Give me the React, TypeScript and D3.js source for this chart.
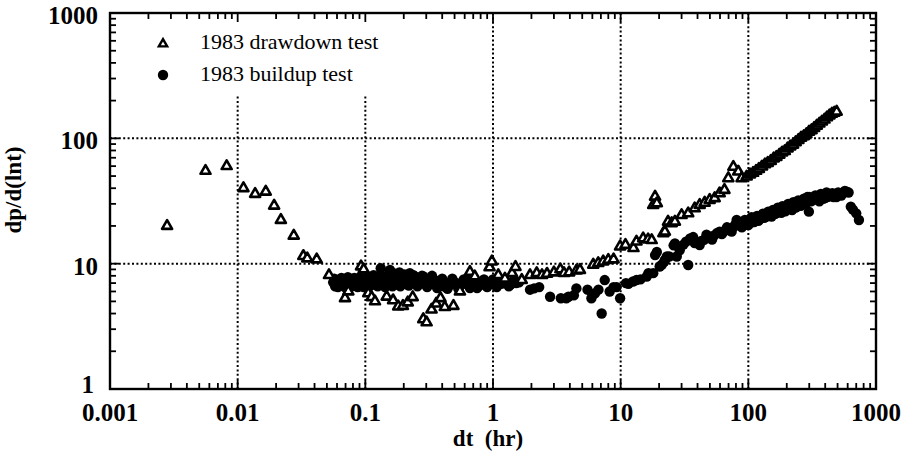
import React from "react";
import * as d3 from "d3";

const xTickValues = [0.001, 0.01, 0.1, 1, 10, 100, 1000];
const xTickLabels = ["0.001", "0.01", "0.1", "1", "10", "100", "1000"];
const yTickValues = [1, 10, 100, 1000];
const yTickLabels = ["1", "10", "100", "1000"];

const legendLabels = ["1983 drawdown test", "1983 buildup test"];
const xTitle = "dt  (hr)";
const yTitle = "dp/d(lnt)";

// 1983 drawdown test (triangles)
const drawdownT = [
  0.0028, 0.0056, 0.0082, 0.0111, 0.0137, 0.0166, 0.0193, 0.0218, 0.0275, 0.0327,
  0.0351, 0.0416, 0.0519, 0.0693, 0.0736, 0.0925, 0.097, 0.1055, 0.112, 0.119,
  0.147, 0.165, 0.181, 0.197, 0.215, 0.235, 0.2845, 0.302, 0.33, 0.359,
  0.388, 0.419, 0.49, 0.551, 0.66, 0.72, 0.94, 0.98, 1.1, 1.24,
  1.41, 1.5, 1.68, 1.95, 2.2, 2.42, 2.65, 3.0, 3.37, 3.6,
  3.95, 4.5, 4.8, 6.1, 6.67, 7.3, 8.0, 8.8, 9.9, 10.9,
  12.6, 13.3, 15.0, 16.4, 17.5, 18.0, 18.6, 19.2, 21.6, 22.2,
  23.5, 25.1, 26.6, 30, 33.8, 38, 41.6, 45.5, 49.8, 54.5,
  59.6, 65, 69.7, 76.3, 83.4, 88.6, 97, 103, 109, 115,
  121, 128, 135, 142, 150, 158, 166, 175, 184, 193,
  203, 213, 224, 235, 247, 259, 272, 285, 299, 313,
  328, 344, 360, 377, 395, 413, 432, 452, 472, 492,
];
const drawdownV = [
  20, 55, 60, 40, 36, 37.5, 29, 22.3, 16.7, 11.5,
  11, 10.8, 8.1, 5.3, 6.0, 9.5, 9.0, 5.8, 5.4, 5.0,
  5.45, 5.1, 4.55, 4.6, 4.9, 5.4, 3.6, 3.4, 4.3, 4.8,
  5.3, 4.5, 4.6, 6.0, 8.6, 7.9, 9.35, 10.4, 8.1, 7.6,
  8.4, 9.4, 7.4, 8.1, 8.4, 8.1, 8.3, 8.5, 9.0, 8.4,
  8.5, 8.8, 8.9, 9.8, 10.1, 10.4, 10.7, 10.8, 13.7, 14.1,
  13.3, 15.0, 15.9, 15.6, 15.4, 29.4, 34.2, 30.3, 17.5, 18,
  21.6, 21, 21.6, 24.4, 25.2, 27.6, 29.4, 30.6, 32.2, 33.3,
  36.4, 38.7, 48, 59.2, 54.3, 48, 49.5, 51.5, 53, 55,
  57, 59.5, 62, 63.5, 66, 69, 71, 74, 77, 79,
  83, 86, 89, 93, 97, 101, 104, 108, 113, 116,
  121, 126, 131, 136, 141, 147, 152, 157, 160, 163,
];

// 1983 buildup test (filled circles)
const buildupT = [
  0.056, 0.058, 0.06, 0.062, 0.064, 0.066, 0.068, 0.07, 0.072, 0.074,
  0.077, 0.08, 0.083, 0.086, 0.089, 0.092, 0.095, 0.098, 0.102, 0.106,
  0.11, 0.114, 0.118, 0.122, 0.127, 0.132, 0.136, 0.141, 0.146, 0.151,
  0.156, 0.161, 0.166, 0.172, 0.178, 0.185, 0.192, 0.199, 0.207, 0.215,
  0.223, 0.232, 0.241, 0.251, 0.261, 0.272, 0.285, 0.298, 0.312, 0.326,
  0.341, 0.357, 0.374, 0.392, 0.41, 0.43, 0.45, 0.47, 0.49, 0.52,
  0.55, 0.58, 0.61, 0.64, 0.68, 0.72, 0.75, 0.79, 0.83, 0.88,
  0.93, 0.98, 1.04, 1.1, 1.16, 1.23, 1.3, 1.37, 1.43, 1.52,
  0.057, 0.061, 0.065, 0.069, 0.073, 0.078, 0.082, 0.087, 0.091, 0.097,
  0.104, 0.108, 0.116, 0.125, 0.134, 0.143, 0.153, 0.163, 0.175, 0.188,
  0.203, 0.219, 0.237, 0.256, 0.278, 0.305, 0.333, 0.365, 0.4, 0.44,
  0.48, 0.535, 0.59, 0.66, 0.7, 0.77, 0.85, 0.9, 1.0, 1.07,
  1.2, 1.33, 1.47, 1.6,
  1.95, 2.1, 2.3, 2.8, 3.4, 3.75, 3.9, 4.3, 4.5, 5.5,
  5.9, 6.3, 6.7, 7.1, 7.5, 8.2, 8.8, 9.3, 9.9, 11.0,
  11.5, 12.5, 13.3, 14.3, 16.0, 16.5, 18.0, 18.6, 19.2, 20.2,
  21, 22.0, 22.2, 23, 24, 26, 26.6, 27.5, 29, 32.5,
  33.8, 35, 38, 41.6, 45, 50, 54, 59.6, 65, 71,
  76, 81, 86, 91, 97, 103, 108, 114, 120, 127,
  133, 139, 146, 152, 159, 166, 173, 181, 190, 200,
  210, 220, 230, 240, 252, 265, 280, 290, 298, 310,
  325, 345, 360, 380, 400, 415, 440, 465, 490, 520,
  550, 590, 635, 660, 700, 735,
  31, 37, 43, 47, 52, 57, 62, 68, 74, 79,
  84, 89, 94, 100, 106, 111, 117, 124, 130, 137,
  143, 149, 156, 163, 170, 177, 185, 195, 205, 215,
  225, 235, 246, 258, 272, 285, 300, 318, 335, 352,
  370, 390, 410, 430, 455, 480, 505, 535, 570, 610,
];
const buildupV = [
  7.1, 6.6, 7.4, 6.9, 7.2, 6.7, 7.3, 7.0, 6.6, 7.4,
  7.1, 6.8, 7.3, 7.0, 6.6, 7.2, 7.5, 6.9, 7.3, 7.0,
  7.6, 6.8, 7.2, 7.8, 7.0, 9.2, 7.5, 6.9, 7.8, 7.3,
  8.9, 7.0, 8.4, 7.5, 6.8, 8.5, 7.2, 7.9, 6.9, 7.6,
  8.4, 7.3, 8.0, 6.9, 7.6, 7.2, 7.9, 6.8, 7.5, 7.7,
  6.9, 7.3, 6.7, 7.1, 6.6, 6.5, 7.0, 6.8, 7.2, 7.0,
  6.6, 7.1, 6.9, 7.3, 6.8, 7.0, 6.4, 6.9, 7.1, 6.7,
  7.0, 7.2, 6.8, 7.1, 6.9, 7.0, 7.1, 6.8, 7.2, 7.0,
  7.6, 6.5, 7.7, 6.5, 7.8, 6.6, 7.7, 6.5, 7.8, 6.5,
  7.9, 6.6, 8.1, 6.6, 8.0, 6.5, 8.3, 6.6, 8.1, 6.6,
  8.2, 6.7, 8.1, 6.6, 8.0, 6.5, 8.0, 6.4, 7.6, 6.3,
  7.6, 6.3, 7.5, 6.4, 7.5, 6.6, 7.5, 6.5, 7.5, 6.5,
  7.4, 6.6, 7.4, 7.1,
  6.2, 6.35, 6.5, 5.45, 5.3, 5.3, 5.45, 5.6, 6.35, 6.2,
  5.3, 5.8, 6.2, 4.0, 7.4, 6.0, 6.5, 6.5, 5.3, 7.0,
  6.9, 7.2, 7.4, 7.5, 7.9, 8.4, 8.4, 11.7, 12.4, 9.5,
  9.8, 10.4, 10.7, 11.4, 11.4, 14, 14.5, 11.4, 12.8, 15,
  9.75, 15.9, 14.6, 14.1, 15.5, 16.4, 16.8, 18, 18.2, 18.6,
  19.5, 22.3, 20, 21.2, 21, 22.5, 21.5, 23, 22, 24,
  23.2, 24.4, 25.5, 23.8, 25, 26, 27, 25.5, 27.6, 27.6,
  28.8, 26.8, 29.5, 28.5, 31, 29.8, 32.5, 34, 26, 31.5,
  33, 33, 31.5, 35, 33.5, 34, 35.5, 34, 34, 36,
  36.5, 37.5, 28.5, 27, 25.2, 22.3,
  14.2, 16.3, 15.2, 17, 15.6, 17.6, 17.2, 19.5, 18, 20.5,
  21.5, 19.5, 22.3, 20.3, 23.5, 21.5, 24, 22.8, 25, 23.5,
  26, 24.2, 26.8, 25, 28, 26.5, 28.8, 26.2, 30, 27.5,
  31, 28, 32, 29, 33, 30.5, 34, 32, 35, 32.5,
  36, 33, 37, 34.5, 36.5, 35.2, 37, 35, 38, 37,
];

const W = 902;
const H = 459;
const L = 110;
const R = 876;
const T = 13;
const B = 389;

const FONT = "'Liberation Serif', 'Times New Roman', serif";

export default function App() {
  const x = d3.scaleLog().domain([0.001, 1000]).range([L, R]);
  const y = d3.scaleLog().domain([1, 1000]).range([B, T]);

  const minorX: number[] = [];
  for (let e = -3; e < 3; e++) {
    for (let m = 2; m <= 9; m++) minorX.push(m * Math.pow(10, e));
  }
  const minorY: number[] = [];
  for (let e = 0; e < 3; e++) {
    for (let m = 2; m <= 9; m++) minorY.push(m * Math.pow(10, e));
  }

  const tri = d3.symbol().type(d3.symbolTriangle).size(44)() as string;
  const triLegend = d3.symbol().type(d3.symbolTriangle).size(30)() as string;

  const legendBottom = 96;
  const legendRight = 420;

  const minorLen = 6;
  const majorLen = 9;

  return (
    <svg
      width={W}
      height={H}
      viewBox={`0 0 ${W} ${H}`}
      style={{ position: "absolute", left: 0, top: 0, background: "#fff" }}
    >
      <rect x={0} y={0} width={W} height={H} fill="#fff" />
      {/* grid lines */}
      <g stroke="#000" strokeWidth={2} strokeDasharray="2,2.4" fill="none">
        {xTickValues.slice(1, -1).map((v) => {
          const px = x(v);
          const top = px < legendRight ? legendBottom : T;
          return <line key={"gx" + v} x1={px} x2={px} y1={B} y2={top} />;
        })}
        {yTickValues.slice(1, -1).map((v) => (
          <line key={"gy" + v} x1={L} x2={R} y1={y(v)} y2={y(v)} />
        ))}
      </g>
      {/* minor/major ticks */}
      <g stroke="#000" strokeWidth={1.8}>
        {minorX.map((v) => (
          <g key={"mx" + v}>
            <line x1={x(v)} x2={x(v)} y1={B} y2={B - minorLen} />
            <line x1={x(v)} x2={x(v)} y1={T} y2={T + minorLen} />
          </g>
        ))}
        {minorY.map((v) => (
          <g key={"my" + v}>
            <line x1={L} x2={L + minorLen} y1={y(v)} y2={y(v)} />
            <line x1={R} x2={R - minorLen} y1={y(v)} y2={y(v)} />
          </g>
        ))}
        {xTickValues.map((v) => (
          <g key={"Mx" + v}>
            <line x1={x(v)} x2={x(v)} y1={B} y2={B - majorLen} />
            <line x1={x(v)} x2={x(v)} y1={T} y2={T + majorLen} />
          </g>
        ))}
        {yTickValues.map((v) => (
          <g key={"My" + v}>
            <line x1={L} x2={L + majorLen} y1={y(v)} y2={y(v)} />
            <line x1={R} x2={R - majorLen} y1={y(v)} y2={y(v)} />
          </g>
        ))}
      </g>
      {/* buildup circles */}
      <g fill="#000">
        {buildupT.map((t, i) => (
          <circle key={"b" + i} cx={x(t)} cy={y(buildupV[i])} r={5.2} />
        ))}
      </g>
      {/* drawdown triangles */}
      <g fill="#fff" stroke="#000" strokeWidth={2.6} strokeLinejoin="round">
        {drawdownT.map((t, i) => (
          <path
            key={"d" + i}
            d={tri}
            transform={`translate(${x(t)},${y(drawdownV[i])})`}
          />
        ))}
      </g>
      {/* frame */}
      <rect
        x={L}
        y={T}
        width={R - L}
        height={B - T}
        fill="none"
        stroke="#000"
        strokeWidth={2.4}
      />
      {/* legend */}
      <g fontFamily={FONT} fontSize={22}>
        <path
          d={triLegend}
          transform={`translate(163,44)`}
          fill="#fff"
          stroke="#000"
          strokeWidth={2.4}
        />
        <text x={200} y={49}>
          {legendLabels[0]}
        </text>
        <circle cx={163} cy={75} r={5.2} fill="#000" />
        <text x={200} y={81}>
          {legendLabels[1]}
        </text>
      </g>
      {/* tick labels */}
      <g fontFamily={FONT} fontSize={25} fontWeight="bold">
        {xTickValues.map((v, i) => (
          <text key={"xl" + v} x={x(v)} y={421} textAnchor="middle">
            {xTickLabels[i]}
          </text>
        ))}
        {yTickValues.map((v, i) => (
          <text
            key={"yl" + v}
            x={v === 1 ? 94 : 98}
            y={v === 1 ? 393 : y(v) + 11}
            textAnchor="end"
          >
            {yTickLabels[i]}
          </text>
        ))}
      </g>
      {/* axis titles */}
      <g fontFamily={FONT} fontSize={23} fontWeight="bold">
        <text x={488} y={446} textAnchor="middle" style={{ whiteSpace: "pre" }}>
          {xTitle}
        </text>
        <text
          transform={`translate(21,190) rotate(-90)`}
          textAnchor="middle"
        >
          {yTitle}
        </text>
      </g>
    </svg>
  );
}
